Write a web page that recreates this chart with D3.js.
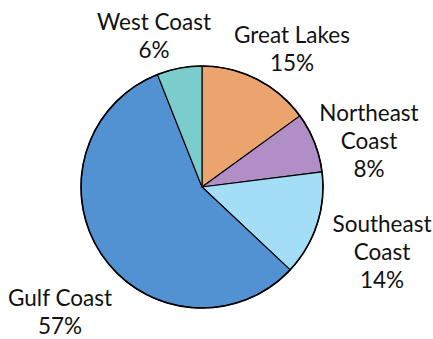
<!DOCTYPE html>
<html>
<head>
<meta charset="utf-8">
<script src="https://cdn.jsdelivr.net/npm/d3@7"></script>
<style>
  html, body { margin: 0; padding: 0; background: #fff; }
  svg { display: block; }
  text { font-family: Lato, "Open Sans", sans-serif; fill: #111; }
</style>
</head>
<body>
<svg id="chart" width="433" height="339"></svg>
<script>
// Regions, in clockwise order from 12 o'clock
const regions = ["Great Lakes", "Northeast Coast", "Southeast Coast", "Gulf Coast", "West Coast"];
const shares = [15, 8, 14, 57, 6];
const colors = ["#eba46e", "#b18ec5", "#a3ddf6", "#5292d2", "#7acdcb"];
// Label lines for each region
const labelLines = [
  ["Great Lakes", "15%"],
  ["Northeast", "Coast", "8%"],
  ["Southeast", "Coast", "14%"],
  ["Gulf Coast", "57%"],
  ["West Coast", "6%"]
];
// Label offsets from the pie centre (x of text centre, y of first baseline)
const labelOffsets = [[90, -144], [167, -66], [180, 45], [-142, 119], [-48, -157]];

const svg = d3.select("#chart");
const cx = 202, cy = 187, radius = 121;
const data = regions.map((r, i) => ({ region: r, share: shares[i], color: colors[i], lines: labelLines[i], off: labelOffsets[i] }));

const pie = d3.pie().sort(null).value(d => d.share);
const arc = d3.arc().innerRadius(0).outerRadius(radius);
const arcs = pie(data);

const g = svg.append("g").attr("transform", `translate(${cx},${cy})`);

g.selectAll("path.slice")
  .data(arcs)
  .join("path")
  .attr("class", "slice")
  .attr("d", arc)
  .attr("fill", d => d.data.color)
  .attr("stroke", "#000")
  .attr("stroke-width", 1.1)
  .attr("stroke-linejoin", "round");

// outer rim
g.append("circle")
  .attr("r", radius)
  .attr("fill", "none")
  .attr("stroke", "#000")
  .attr("stroke-width", 1.6);

const lineH = 27.8;
const fontSize = 22.5;

arcs.forEach(a => {
  const [x, y] = a.data.off;
  const t = g.append("text")
    .attr("text-anchor", "middle")
    .attr("font-size", fontSize);
  a.data.lines.forEach((ln, k) => {
    t.append("tspan").attr("x", x).attr("y", y + k * lineH).text(ln);
  });
});
</script>
</body>
</html>
